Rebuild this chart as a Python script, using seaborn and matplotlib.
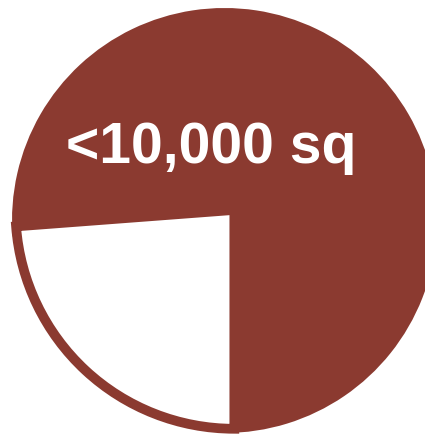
import matplotlib
matplotlib.use("Agg")
import matplotlib.pyplot as plt
import seaborn as sns

# Share of buildings by floor area
categories = ["<10,000 sq", "other"]
shares = [76.2, 23.8]
label_text = "<10,000 sq"

BRICK = "#8B3A30"

sns.set_theme(style="white")
plt.rcParams["font.family"] = ["Liberation Sans", "DejaVu Sans"]

fig = plt.figure(figsize=(4.25, 4.34), dpi=100)
fig.patch.set_facecolor("white")
ax = fig.add_axes([12 / 425, 1 / 434, 425 / 425, 425 / 434])

wedges, _ = ax.pie(
    shares,
    colors=[BRICK, "white"],
    startangle=270,
    counterclock=True,
    explode=[0, -0.068],
    radius=1.0,
)
wedges[0].set_edgecolor("none")
# the small slice is pulled inwards and drawn with a thick brick outline
wedges[1].set_radius(1.03)
wedges[1].set_edgecolor(BRICK)
wedges[1].set_linewidth(7.0)
wedges[1].set_zorder(3)

ax.text(-0.061, 0.27, label_text, color="white", fontsize=41, fontweight="bold",
        ha="center", va="baseline", zorder=5)

ax.set_xlim(-1, 1)
ax.set_ylim(-1, 1)
ax.set_aspect("equal")
ax.axis("off")

fig.savefig("out.png", dpi=100, facecolor="white")
